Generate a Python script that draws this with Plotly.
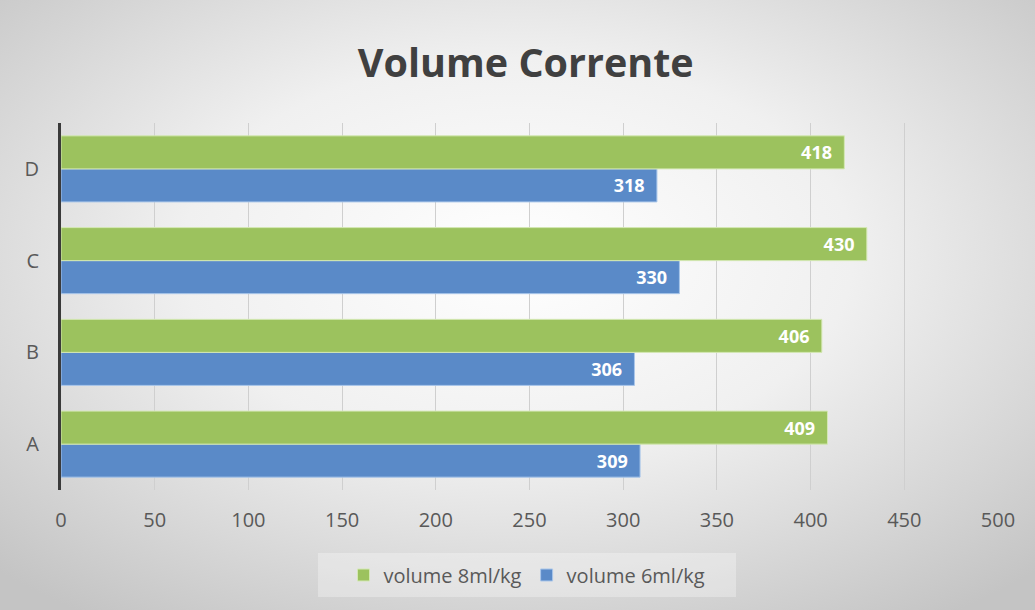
import base64
import plotly.graph_objects as go

categories = ["A", "B", "C", "D"]
vol_8 = [409, 406, 430, 418]
vol_6 = [309, 306, 330, 318]
series_names = ["volume 8ml/kg", "volume 6ml/kg"]
x_ticks = [0, 50, 100, 150, 200, 250, 300, 350, 400, 450, 500]

GREEN = "#9CC25E"
BLUE = "#5A8AC8"
FONT = "Open Sans"

W, H = 1035, 610
ML, MR, MT, MB = 61, 37, 123, 120
PW, PH = W - ML - MR, H - MT - MB

svg = """<svg xmlns='http://www.w3.org/2000/svg' width='1035' height='610' viewBox='0 0 1035 610' preserveAspectRatio='none'>
<defs><radialGradient id='g' cx='50%' cy='42%' r='72%'>
<stop offset='0%' stop-color='#ffffff'/>
<stop offset='45%' stop-color='#f0f0f0'/>
<stop offset='100%' stop-color='#c4c4c4'/>
</radialGradient></defs>
<rect width='1035' height='610' fill='url(#g)'/></svg>"""
bg_src = "data:image/svg+xml;base64," + base64.b64encode(svg.encode()).decode()

pad = "\u00a0\u00a0"
fig = go.Figure()
fig.add_trace(go.Bar(
    y=categories, x=vol_6, name=series_names[1], orientation="h",
    marker=dict(color=BLUE, line=dict(color="#a9c6ea", width=1)),
    text=[f"{v}{pad}" for v in vol_6], textposition="inside", insidetextanchor="end",
    textfont=dict(family=FONT, size=18, color="white", weight="bold"),
))
fig.add_trace(go.Bar(
    y=categories, x=vol_8, name=series_names[0], orientation="h",
    marker=dict(color=GREEN, line=dict(color="#d4e8b4", width=1)),
    text=[f"{v}{pad}" for v in vol_8], textposition="inside", insidetextanchor="end",
    textfont=dict(family=FONT, size=18, color="white", weight="bold"),
))

def px_to_paper_x(px):
    return (px - ML) / PW

def px_to_paper_y(py):
    return (H - MB - py) / PH

fig.update_layout(
    width=W, height=H,
    margin=dict(l=ML, r=MR, t=MT, b=MB),
    paper_bgcolor="#e6e6e6",
    plot_bgcolor="rgba(0,0,0,0)",
    barmode="group", bargap=0.28, bargroupgap=0.0,
    images=[dict(source=bg_src, xref="paper", yref="paper", x=-ML / PW, y=1 + MT / PH,
                 sizex=W / PW, sizey=H / PH, xanchor="left", yanchor="top",
                 sizing="stretch", layer="below")],
    shapes=[dict(type="rect", xref="paper", yref="paper",
                 x0=px_to_paper_x(318), x1=px_to_paper_x(736),
                 y0=px_to_paper_y(597), y1=px_to_paper_y(553),
                 fillcolor="rgba(255,255,255,0.3)", line=dict(width=0), layer="below")],
    title=dict(text="<b>Volume Corrente</b>", x=0.508, xanchor="center", y=0.897, yanchor="middle",
               font=dict(family=FONT, size=39.5, color="#404040")),
    xaxis=dict(range=[0, 500], tickvals=x_ticks, showgrid=True, gridcolor="#cfcfcf", gridwidth=1,
               zeroline=False, showline=False, ticks="", ticklabelstandoff=16,
               tickfont=dict(family=FONT, size=20, color="#595959")),
    yaxis=dict(showline=True, linecolor="#3a3a3a", linewidth=3, ticks="", showgrid=False,
               ticklabelstandoff=15,
               tickfont=dict(family=FONT, size=20, color="#595959")),
    legend=dict(orientation="h", x=px_to_paper_x(527), xanchor="center",
                y=px_to_paper_y(575), yanchor="middle",
                traceorder="reversed", bgcolor="rgba(0,0,0,0)",
                font=dict(family=FONT, size=20, color="#595959"),
                itemwidth=30),
    showlegend=True,
)

fig.write_html("out.html")
